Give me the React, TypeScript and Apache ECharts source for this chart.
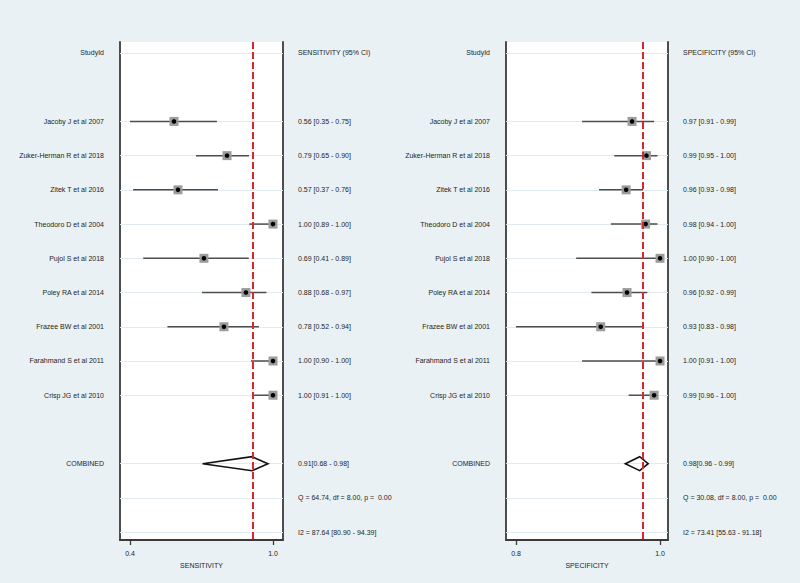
import React, { useEffect, useRef } from "react";
import * as echarts from "echarts";

// ---------- data ----------
const studies = [
  "Jacoby J et al 2007",
  "Zuker-Herman R et al 2018",
  "Zitek T et al 2016",
  "Theodoro D et al 2004",
  "Pujol S et al 2018",
  "Poley RA et al 2014",
  "Frazee BW et al 2001",
  "Farahmand S et al 2011",
  "Crisp JG et al 2010",
];
const studyRows = [2, 3, 4, 5, 6, 7, 8, 9, 10];
const combinedRow = 12;
const statRows = [13, 14];

// sensitivity (as drawn)
const sensEst = [0.55, 0.791, 0.568, 1.0, 0.686, 0.877, 0.777, 1.0, 1.0];
const sensLo = [0.35, 0.65, 0.364, 0.892, 0.41, 0.677, 0.52, 0.9, 0.914];
const sensHi = [0.745, 0.891, 0.75, 1.0, 0.89, 0.97, 0.936, 1.0, 1.0];
const sensCombined = [0.68, 0.977, 0.905]; // lo, hi, est
const sensText = [
  "0.56 [0.35 - 0.75]",
  "0.79 [0.65 - 0.90]",
  "0.57 [0.37 - 0.76]",
  "1.00 [0.89 - 1.00]",
  "0.69 [0.41 - 0.89]",
  "0.88 [0.68 - 0.97]",
  "0.78 [0.52 - 0.94]",
  "1.00 [0.90 - 1.00]",
  "1.00 [0.91 - 1.00]",
];
const sensCombinedText = "0.91[0.68 - 0.98]";
const sensStats = ["Q = 64.74, df = 8.00, p =  0.00", "I2 = 87.64 [80.90 - 94.39]"];
const sensTicks = [0.35, 1.0];
const sensTickLabels = ["0.4", "1.0"];

// specificity (as drawn)
const specEst = [0.967, 0.984, 0.96, 0.983, 1.0, 0.961, 0.93, 1.0, 0.993];
const specLo = [0.908, 0.946, 0.928, 0.942, 0.901, 0.919, 0.83, 0.908, 0.963];
const specHi = [0.993, 0.997, 0.98, 0.997, 1.0, 0.985, 0.98, 1.0, 0.997];
const specCombined = [0.959, 0.986, 0.976];
const specText = [
  "0.97 [0.91 - 0.99]",
  "0.99 [0.95 - 1.00]",
  "0.96 [0.93 - 0.98]",
  "0.98 [0.94 - 1.00]",
  "1.00 [0.90 - 1.00]",
  "0.96 [0.92 - 0.99]",
  "0.93 [0.83 - 0.98]",
  "1.00 [0.91 - 1.00]",
  "0.99 [0.96 - 1.00]",
];
const specCombinedText = "0.98[0.96 - 0.99]";
const specStats = ["Q = 30.08, df = 8.00, p =  0.00", "I2 = 73.41 [55.63 - 91.18]"];
const specTicks = [0.83, 1.0];
const specTickLabels = ["0.8", "1.0"];

const FONT = "Liberation Sans, Arial, sans-serif";
const TXT = "#1e1e1e";
const BOX = "#3a3a3a";

function buildPanel(
  gi: number,
  cfg: {
    xmin: number;
    xmax: number;
    est: number[];
    lo: number[];
    hi: number[];
    comb: number[];
    header: string;
    text: string[];
    combText: string;
    stats: string[];
    ticks: number[];
    tickLabels: string[];
    axisName: string;
  }
) {
  const leftMap: Record<number, string> = { 0: "StudyId", [combinedRow]: "COMBINED" };
  studyRows.forEach((r, i) => (leftMap[r] = studies[i]));
  const rightMap: Record<number, string> = { 0: cfg.header, [combinedRow]: cfg.combText };
  studyRows.forEach((r, i) => (rightMap[r] = cfg.text[i]));
  statRows.forEach((r, i) => (rightMap[r] = cfg.stats[i]));
  const leftRows = [0, ...studyRows, combinedRow];
  const rightRows = [0, ...studyRows, combinedRow, ...statRows];
  const lineRows = [0, ...studyRows, combinedRow, ...statRows];

  const yBase = {
    gridIndex: gi,
    type: "value",
    min: -0.32,
    max: 14.23,
    inverse: true,
    splitLine: { show: false },
    axisTick: { show: false },
    axisLine: { show: true, onZero: false, lineStyle: { color: BOX, width: 1.8 } },
  };
  const yAxes = [
    {
      ...yBase,
      position: "left",
      axisLabel: {
        customValues: leftRows,
        formatter: (v: number) => leftMap[Math.round(v)] ?? "",
        fontSize: 7,
        fontFamily: FONT,
        color: TXT,
        margin: 16,
        align: "right",
      },
    },
    {
      ...yBase,
      position: "right",
      axisLabel: {
        customValues: rightRows,
        formatter: (v: number) => rightMap[Math.round(v)] ?? "",
        fontSize: 7,
        fontFamily: FONT,
        color: TXT,
        margin: 15,
        align: "left",
      },
    },
  ];

  const tickMap: Record<string, string> = {};
  cfg.ticks.forEach((t, i) => (tickMap[t.toFixed(3)] = cfg.tickLabels[i]));
  const xAxis = {
    gridIndex: gi,
    type: "value",
    min: cfg.xmin,
    max: cfg.xmax,
    splitLine: { show: false },
    axisLine: { show: true, onZero: false, lineStyle: { color: BOX, width: 1.8 } },
    axisTick: { show: true, customValues: cfg.ticks, length: 5, lineStyle: { color: BOX, width: 1.3 } },
    axisLabel: {
      customValues: cfg.ticks,
      formatter: (v: number) => tickMap[v.toFixed(3)] ?? "",
      fontSize: 7,
      fontFamily: FONT,
      color: TXT,
      margin: 10,
    },
    name: cfg.axisName,
    nameLocation: "middle",
    nameGap: 16,
    nameTextStyle: { fontSize: 7, fontFamily: FONT, color: TXT },
  };

  const yIdx = gi * 2;
  const series = [
    {
      type: "line",
      xAxisIndex: gi,
      yAxisIndex: yIdx,
      data: [],
      z: 1,
      silent: true,
      markLine: {
        silent: true,
        z: 1,
        symbol: "none",
        label: { show: false },
        lineStyle: { color: "#dfeaf1", width: 1, type: "solid" },
        data: lineRows.map((r) => ({ yAxis: r })),
      },
    },
    {
      type: "custom",
      xAxisIndex: gi,
      yAxisIndex: yIdx,
      z: 3,
      encode: { x: [0, 1, 2], y: 3 },
      data: studyRows.map((r, i) => [cfg.lo[i], cfg.hi[i], cfg.est[i], r]),
      renderItem: (params: any, api: any) => {
        const row = api.value(3);
        const a = api.coord([api.value(0), row]);
        const b = api.coord([api.value(1), row]);
        const e = api.coord([api.value(2), row]);
        return {
          type: "group",
          children: [
            { type: "line", shape: { x1: a[0], y1: a[1], x2: b[0], y2: b[1] }, style: { stroke: "#4d4d4d", lineWidth: 1.5 } },
            { type: "rect", shape: { x: e[0] - 4.5, y: e[1] - 4.5, width: 9, height: 9 }, style: { fill: "#9c9c9c" } },
            { type: "circle", shape: { cx: e[0], cy: e[1], r: 2.3 }, style: { fill: "#000" } },
          ],
        };
      },
    },
    {
      type: "custom",
      xAxisIndex: gi,
      yAxisIndex: yIdx,
      z: 4,
      encode: { x: [0, 1, 2], y: 3 },
      data: [[cfg.comb[0], cfg.comb[1], cfg.comb[2], combinedRow]],
      renderItem: (params: any, api: any) => {
        const row = api.value(3);
        const a = api.coord([api.value(0), row]);
        const b = api.coord([api.value(1), row]);
        const e = api.coord([api.value(2), row]);
        return {
          type: "polygon",
          shape: { points: [[a[0], a[1]], [e[0], e[1] - 7], [b[0], b[1]], [e[0], e[1] + 7]] },
          style: { fill: "none", stroke: "#111", lineWidth: 1.6 },
        };
      },
    },
    {
      type: "line",
      xAxisIndex: gi,
      yAxisIndex: yIdx,
      data: [],
      z: 5,
      silent: true,
      markLine: {
        silent: true,
        z: 5,
        symbol: "none",
        label: { show: false },
        lineStyle: { color: "#d42a2f", width: 2, type: [7, 3] },
        data: [{ xAxis: cfg.comb[2] }],
      },
    },
  ];
  return { xAxis, yAxes, series };
}

export default function App() {
  const ref = useRef<HTMLDivElement>(null);
  useEffect(() => {
    if (!ref.current) return;
    const chart = echarts.init(ref.current, null, { renderer: "svg" });
    const p0 = buildPanel(0, {
      xmin: 0.3045,
      xmax: 1.0455,
      est: sensEst,
      lo: sensLo,
      hi: sensHi,
      comb: sensCombined,
      header: "SENSITIVITY (95% CI)",
      text: sensText,
      combText: sensCombinedText,
      stats: sensStats,
      ticks: sensTicks,
      tickLabels: sensTickLabels,
      axisName: "SENSITIVITY",
    });
    const p1 = buildPanel(1, {
      xmin: 0.8182,
      xmax: 1.0094,
      est: specEst,
      lo: specLo,
      hi: specHi,
      comb: specCombined,
      header: "SPECIFICITY (95% CI)",
      text: specText,
      combText: specCombinedText,
      stats: specStats,
      ticks: specTicks,
      tickLabels: specTickLabels,
      axisName: "SPECIFICITY",
    });
    chart.setOption({
      animation: false,
      backgroundColor: "#e9f1f4",
      grid: [
        { left: 120, width: 163, top: 42, bottom: 43, show: true, backgroundColor: "#ffffff", borderWidth: 0 },
        { left: 506, width: 162, top: 42, bottom: 43, show: true, backgroundColor: "#ffffff", borderWidth: 0 },
      ],
      xAxis: [p0.xAxis, p1.xAxis],
      yAxis: [...p0.yAxes, ...p1.yAxes],
      series: [...p0.series, ...p1.series],
    });
    return () => chart.dispose();
  }, []);
  return <div ref={ref} style={{ position: "fixed", left: 0, top: 0, width: 800, height: 583 }} />;
}
